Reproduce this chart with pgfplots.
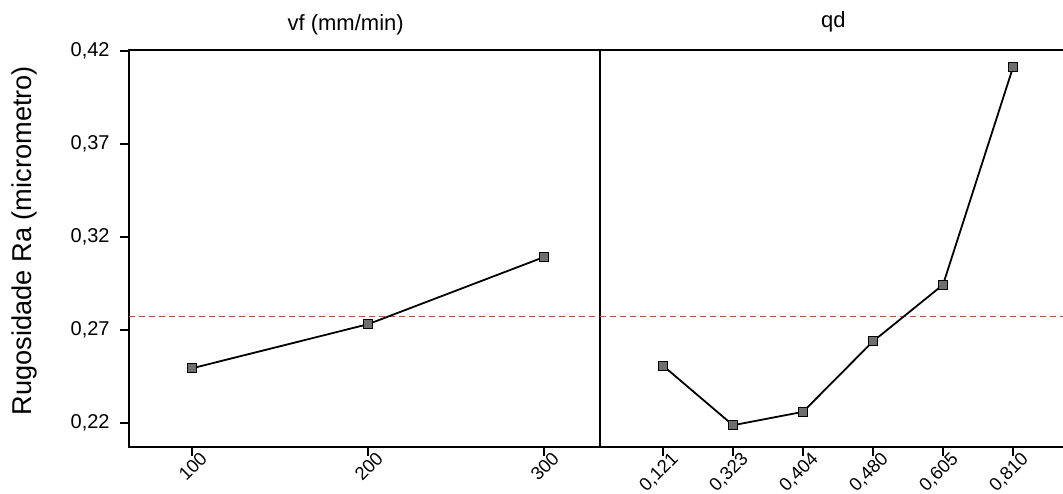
\documentclass[border=0pt]{standalone}
\usepackage{fontspec}
\setmainfont{Liberation Sans}
\usepackage{pgfplots}
\pgfplotsset{compat=1.18}
\definecolor{meanred}{RGB}{228,60,60}
\definecolor{markgray}{RGB}{110,110,110}
\begin{document}
\begin{tikzpicture}
\pgfplotsset{
  panel/.style={
    scale only axis, height=198.5pt, ymin=0.2071, ymax=0.4205,
    axis line style={line width=0.9pt},
    tick style={black, line width=0.9pt},
    tick align=outside, major tick length=4.5pt,
    xtick pos=bottom, ytick pos=left,
    x tick label style={font=\fontsize{9.2}{11}\selectfont, rotate=45,
      anchor=north east, inner sep=0pt, xshift=4.5pt, yshift=-0.5pt},
    y tick label style={font=\fontsize{10}{12}\selectfont, inner sep=0pt, xshift=-5pt},
    title style={font=\fontsize{11}{13}\selectfont, anchor=center},
    clip=false,
  },
  series/.style={black, line width=0.9pt, mark=square*, mark size=2.2pt,
    mark options={fill=markgray, draw=black, line width=0.5pt}},
  meanline/.style={meanred, line width=0.6pt, dash pattern=on 3pt off 2pt},
}
\begin{axis}[panel, at={(64.5pt,23pt)}, anchor=south west, width=235.5pt,
  xmin=64.2, xmax=331.8, xtick={100,200,300}, xticklabels={100,200,300},
  ytick={0.22,0.27,0.32,0.37,0.42},
  yticklabels={{0,22},{0,27},{0,32},{0,37},{0,42}},
  title={vf (mm/min)},
  title style={at={(axis description cs:0.46,1)}, yshift=6.5pt},
  ylabel={Rugosidade Ra (micrometro)},
  ylabel style={at={(axis description cs:-0.221,0.52)}, anchor=center,
    font=\fontsize{13.6}{15}\selectfont},
]
\addplot[meanline] coordinates {(64.2,0.2773) (331.8,0.2773)};
\addplot[series] coordinates {(100,0.2494) (200,0.2731) (300,0.3092)};
\end{axis}
\begin{axis}[panel, at={(300pt,23pt)}, anchor=south west, width=238pt,
  xmin=-0.9, xmax=5.9, xtick={0,1,2,3,4,5},
  xticklabels={{0,121},{0,323},{0,404},{0,480},{0,605},{0,810}},
  ytick=\empty,
  title={qd},
  title style={at={(axis description cs:0.49,1)}, yshift=8pt},
]
\addplot[meanline] coordinates {(-0.9,0.2773) (5.9,0.2773)};
\addplot[series] coordinates {(0,0.2508) (1,0.2188) (2,0.226) (3,0.2639) (4,0.2943) (5,0.4112)};
\end{axis}
\pgfresetboundingbox
\path (0,0) rectangle (531.5pt,246.5pt);
\end{tikzpicture}
\end{document}
